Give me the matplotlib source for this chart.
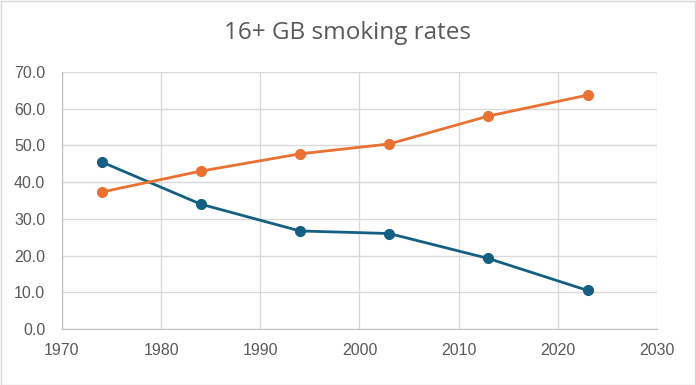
import matplotlib.pyplot as plt
from matplotlib.patches import Rectangle

# survey years and rates (%)
years = [1974, 1984, 1994, 2003, 2013, 2023]
smokers = [45.5, 34.0, 26.7, 26.0, 19.2, 10.5]
never_smoked = [37.3, 43.0, 47.7, 50.4, 58.0, 63.7]

x_ticks = [1970, 1980, 1990, 2000, 2010, 2020, 2030]
y_ticks = [0, 10, 20, 30, 40, 50, 60, 70]

plt.rcParams['font.family'] = ['Liberation Sans', 'DejaVu Sans']

fig = plt.figure(figsize=(6.96, 3.85), dpi=100)
fig.patches.append(Rectangle((0.001, 0.001), 0.997, 0.997, transform=fig.transFigure,
                             fill=False, edgecolor='#D9D9D9', linewidth=1))
ax = fig.add_axes([0.089, 0.1455, 0.855, 0.6675])

ax.plot(years, smokers, '-o', color='#156082', linewidth=2, markersize=7, zorder=3)
ax.plot(years, never_smoked, '-o', color='#E97132', linewidth=2, markersize=7, zorder=3)

ax.set_xlim(1970, 2030)
ax.set_ylim(0, 70)
ax.set_xticks(x_ticks)
ax.set_yticks(y_ticks)
ax.set_yticklabels([f"{v:.1f}" for v in y_ticks])
ax.tick_params(length=0, labelsize=11.5, labelcolor='#595959')
ax.tick_params(axis='y', pad=12)
ax.tick_params(axis='x', pad=10)
ax.grid(True, color='#D9D9D9', linewidth=1)
ax.set_axisbelow(True)
for side in ['top', 'right']:
    ax.spines[side].set_visible(False)
for side in ['left', 'bottom']:
    ax.spines[side].set_color('#BFBFBF')

fig.suptitle("16+ GB smoking rates", x=0.5, y=0.945, fontsize=17.5, color='#595959',
             family=['Open Sans', 'DejaVu Sans'])

fig.savefig("out.png", dpi=100)
